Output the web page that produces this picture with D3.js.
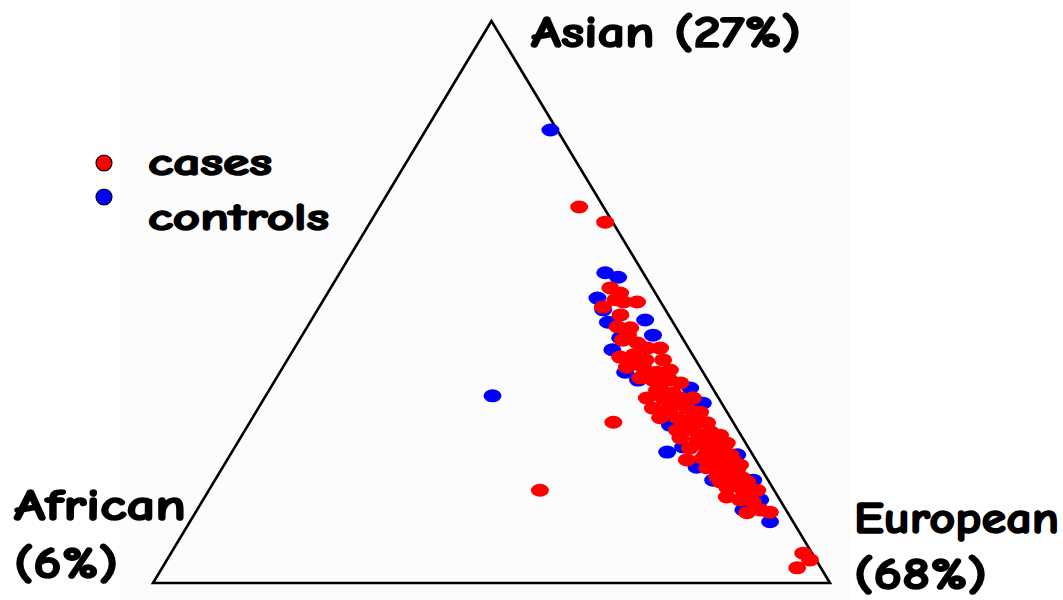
<!DOCTYPE html>
<html><head><meta charset="utf-8">
<script src="https://cdn.jsdelivr.net/npm/d3@7"></script>
<style>html,body{margin:0;padding:0;background:#fff;}svg{display:block;}</style>
</head><body>
<svg id="chart" width="1063" height="600"></svg>
<script>
// Ternary proportions (Asian, African, European)
const vertexLabels = ["Asian (27%)", "African", "(6%)", "European", "(68%)"];
const legendLabels = ["cases", "controls"];

const controlsAsian    = [0.806,0.552,0.544,0.333,0.507,0.486,0.464,0.468,0.441,0.436,0.415,0.375,0.361,0.347,0.320,0.281,0.233,0.228,0.183,0.183,0.148,0.130,0.109,0.206,0.242];
const controlsAfrican  = [0.010,0.056,0.041,0.332,0.090,0.092,0.096,0.039,0.041,0.092,0.114,0.115,0.103,0.033,0.028,0.096,0.124,0.023,0.081,0.022,0.029,0.063,0.034,0.094,0.096];
const controlsEuropean = [0.184,0.392,0.415,0.335,0.403,0.422,0.440,0.493,0.518,0.472,0.471,0.510,0.536,0.620,0.652,0.623,0.643,0.749,0.736,0.795,0.823,0.807,0.857,0.700,0.662];

const casesAsian = [0.669,0.642,0.286,0.165,0.053,0.041,0.027,
  0.525,0.516,0.491,0.500,0.500,0.477,0.456,0.454,0.432,0.427,0.418,0.418,0.402,0.406,0.397,0.397,0.384,0.383,0.375,0.379,
  0.365,0.361,0.361,0.356,0.343,0.338,0.329,0.329,0.329,0.329,0.311,0.311,0.311,0.304,0.294,0.294,0.290,0.285,0.272,0.272,
  0.269,0.263,0.258,0.254,0.254,0.249,0.240,0.240,0.237,0.219,0.222,0.222,0.219,0.205,0.205,0.201,0.189,0.187,0.180,0.169,
  0.165,0.165,0.153,0.148,0.144,0.125,0.126,0.130,
  0.263,0.246,0.228,0.215,0.198,0.187,0.174,0.157,0.180,0.228,0.290,0.281,0.308,0.326,0.352,0.375,0.397,0.441,0.504,0.237,0.210];
const casesAfrican = [0.036,0.011,0.177,0.346,0.013,0.009,0.035,
  0.062,0.052,0.090,0.055,0.035,0.071,0.086,0.068,0.090,0.071,0.061,0.042,0.109,0.087,0.074,0.048,0.108,0.084,0.068,0.047,
  0.098,0.081,0.056,0.043,0.084,0.063,0.106,0.082,0.057,0.038,0.106,0.081,0.056,0.040,0.104,0.079,0.062,0.039,0.090,0.066,
  0.042,0.031,0.092,0.069,0.046,0.028,0.087,0.062,0.039,0.102,0.077,0.052,0.034,0.079,0.055,0.037,0.072,0.050,0.032,0.067,
  0.046,0.025,0.076,0.059,0.042,0.060,0.026,0.038,
  0.060,0.046,0.033,0.067,0.051,0.036,0.053,0.039,0.072,0.070,0.054,0.076,0.089,0.066,0.075,0.081,0.089,0.078,0.065,0.047,0.028];
const casesEuropean = [0.295,0.347,0.537,0.489,0.934,0.950,0.938,
  0.413,0.432,0.419,0.445,0.465,0.452,0.458,0.478,0.478,0.502,0.521,0.540,0.489,0.507,0.529,0.555,0.508,0.533,0.557,0.574,
  0.537,0.558,0.583,0.601,0.573,0.599,0.565,0.589,0.614,0.633,0.583,0.608,0.633,0.656,0.602,0.627,0.648,0.676,0.638,0.662,
  0.689,0.706,0.650,0.677,0.700,0.723,0.673,0.698,0.724,0.679,0.701,0.726,0.747,0.716,0.740,0.762,0.739,0.763,0.788,0.764,
  0.789,0.810,0.771,0.793,0.814,0.815,0.848,0.832,
  0.677,0.708,0.739,0.718,0.751,0.777,0.773,0.804,0.748,0.702,0.656,0.643,0.603,0.608,0.573,0.544,0.514,0.481,0.431,0.716,0.762];

const seriesColors = {cases: "#ff0000", controls: "#0000ff"};

const svg = d3.select("#chart");
const W = 1063, H = 600;
svg.append("rect").attr("width", W).attr("height", H).attr("fill", "#ffffff");
svg.append("rect").attr("x", 120).attr("y", 0).attr("width", 730).attr("height", H).attr("fill", "#fcfcfc");

// Scales: y from Asian fraction, x from European + half Asian
const yScale = d3.scaleLinear().domain([0, 1]).range([583, 21]);
const xScale = d3.scaleLinear().domain([0, 1]).range([153, 830]);

function pos(a, f, e) {
  const s = a + f + e;
  a /= s; e /= s;
  return [xScale(e + a / 2), yScale(a)];
}

const tri = [pos(1,0,0), pos(0,1,0), pos(0,0,1)];
svg.append("path")
  .attr("d", d3.line()(tri) + "Z")
  .attr("fill", "none").attr("stroke", "#000").attr("stroke-width", 2.6)
  .attr("stroke-linejoin", "miter");

function makePts(A, F, E) { return A.map((a, i) => pos(a, F[i], E[i])); }
const controlsPts = makePts(controlsAsian, controlsAfrican, controlsEuropean);
const casesPts = makePts(casesAsian, casesAfrican, casesEuropean);

svg.append("g").selectAll("ellipse").data(controlsPts).join("ellipse")
  .attr("cx", d => d[0]).attr("cy", d => d[1]).attr("rx", 9).attr("ry", 6.5)
  .attr("fill", seriesColors.controls);
svg.append("g").selectAll("ellipse").data(casesPts).join("ellipse")
  .attr("cx", d => d[0]).attr("cy", d => d[1]).attr("rx", 9).attr("ry", 6.5)
  .attr("fill", seriesColors.cases);

const font = "'Comic Sans MS','Comic Neue','DejaVu Sans',sans-serif";
function label(txt, x, y, size, width) {
  svg.append("text").text(txt).attr("x", x).attr("y", y)
    .attr("font-family", font).attr("font-weight", "bold").attr("font-size", size)
    .attr("fill", "#000").attr("stroke", "#000").attr("stroke-width", 1.6)
    .attr("stroke-linejoin", "round")
    .attr("textLength", width).attr("lengthAdjust", "spacingAndGlyphs");
}
label(vertexLabels[0], 531, 47, 44, 270);
label(vertexLabels[1], 14, 520, 44, 172);
label(vertexLabels[2], 14, 578, 44, 104);
label(vertexLabels[3], 854, 533, 44, 205);
label(vertexLabels[4], 854, 589, 44, 133);

// Legend
const legendColors = [seriesColors.cases, seriesColors.controls];
const legendMarkerY = [163, 197];
svg.append("g").selectAll("path").data(legendColors).join("path")
  .attr("d", d3.symbol().type(d3.symbolCircle).size(200))
  .attr("transform", (d, i) => `translate(104,${legendMarkerY[i]})`)
  .attr("fill", d => d).attr("stroke", "#000").attr("stroke-width", 1.2);
label(legendLabels[0], 148, 175, 38, 124);
label(legendLabels[1], 148, 230, 38, 181);
</script>
</body></html>
